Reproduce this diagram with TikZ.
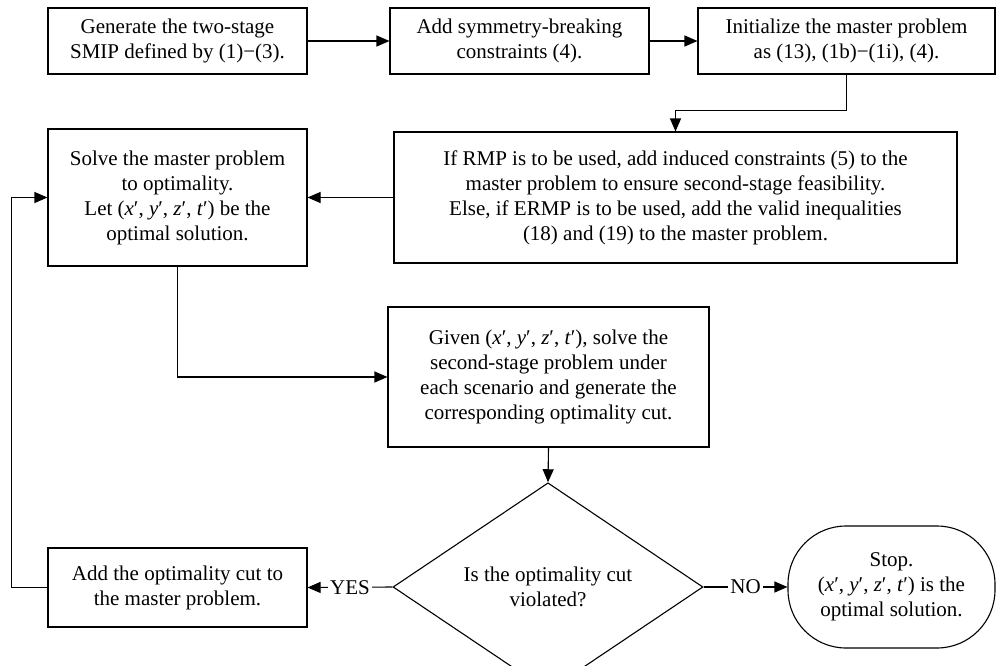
\documentclass[tikz,border=0pt]{standalone}
\usepackage{fontspec}
\setmainfont{Liberation Serif}
\usetikzlibrary{arrows.meta,shapes.geometric}
\newcommand{\sol}{(\textit{x}′, \textit{y}′, \textit{z}′, \textit{t}′)}
\begin{document}
\begin{tikzpicture}[x=1pt,y=-1pt,
  font=\fontsize{21}{25}\selectfont,
  box/.style={draw, line width=1.1pt, align=center, inner sep=0pt},
  arr/.style={line width=1.1pt, -{Triangle[length=13pt,width=11pt]}},
  lab/.style={fill=white, inner sep=2pt}]
\useasboundingbox (0,0) rectangle (997,665);
\clip (0,0) rectangle (997,665);
\fill[white] (0,0) rectangle (997,665);

\node[box, minimum width=259pt, minimum height=66pt] (b1) at (177.5,41)
  {Generate the two-stage\\SMIP defined by (1)−(3).};
\node[box, minimum width=259pt, minimum height=66pt] (b2) at (519.5,41)
  {Add symmetry-breaking\\constraints (4).};
\node[box, minimum width=297pt, minimum height=66pt] (b3) at (846.5,41)
  {Initialize the master problem\\as (13), (1b)−(1i), (4).};
\node[box, minimum width=563pt, minimum height=131pt] (b4) at (675.5,197.5)
  {If RMP is to be used, add induced constraints (5) to the\\
   master problem to ensure second-stage feasibility.\\
   Else, if ERMP is to be used, add the valid inequalities\\
   (18) and (19) to the master problem.};
\node[box, minimum width=259pt, minimum height=137pt] (b5) at (177.5,197.5)
  {Solve the master problem\\to optimality.\\Let \sol{} be the\\optimal solution.};
\node[box, minimum width=321pt, minimum height=140pt] (b6) at (548.5,377)
  {Given \sol, solve the\\second-stage problem under\\each scenario and generate the\\corresponding optimality cut.};
\node[draw, line width=1.1pt, diamond, minimum width=310pt, minimum height=162pt,
  inner sep=0pt, align=center] (dia) at (548,587)
  {Is the optimality cut\\violated?};
\node[box, minimum width=259pt, minimum height=79pt] (b7) at (177.5,587.5)
  {Add the optimality cut to\\the master problem.};
\node[box, rounded corners=58pt, minimum width=207pt, minimum height=122pt] (stop) at (891.5,587)
  {Stop.\\\sol{} is the\\optimal solution.};

\draw[arr] (b1.east) -- (b2.west);
\draw[arr] (b2.east) -- (b3.west);
\draw[arr] (b3.south) -- ++(0,36) -| (b4.north);
\draw[arr] (b4.west) -- (b5.east);
\draw[arr] (b5.south) |- (b6.west);
\draw[arr] (b6.south) -- (dia.north);
\draw[arr] (dia.west) -- node[lab] {YES} (b7.east);
\draw[arr] (dia.east) -- node[lab] {NO} (stop.west);
\draw[arr] (b7.west) -- ++(-36,0) |- (b5.west);
\end{tikzpicture}
\end{document}
